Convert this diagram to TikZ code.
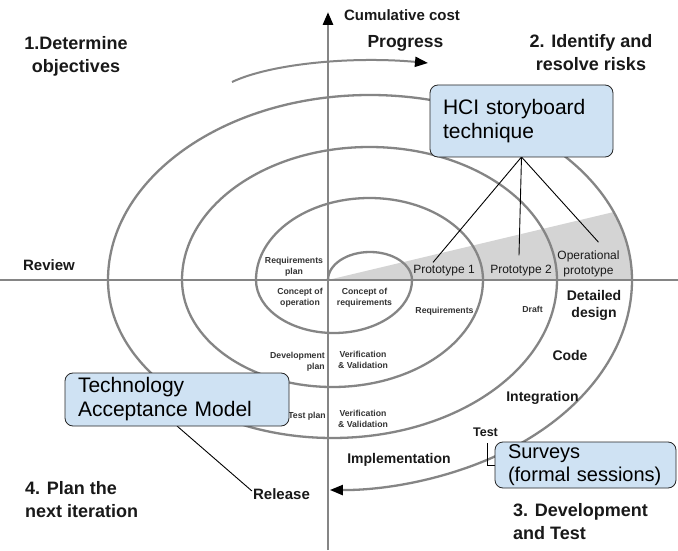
\documentclass[tikz,border=0pt]{standalone}
\usepackage{fontspec}
\setmainfont{Liberation Sans}
\usetikzlibrary{arrows.meta,calc}
\definecolor{arcgray}{HTML}{858585}
\definecolor{boxblue}{HTML}{CFE2F3}
\definecolor{wedgegray}{HTML}{D4D4D4}

\begin{document}
\begin{tikzpicture}[x=1pt,y=1pt,
  spiral/.style={draw=arcgray, line width=2.3pt},
  axisline/.style={draw=arcgray, line width=2.8pt},
  tip/.style={-{Triangle[length=13pt,width=10pt,color=black]}},
  callout/.style={draw=black!85, line width=0.8pt, fill=boxblue, rounded corners=8pt,
    align=left, inner xsep=13pt, inner ysep=0pt},
  lead/.style={draw=black, line width=0.9pt},
  phase/.style={font=\bfseries\fontsize{18}{23}\selectfont, text=black!90, inner sep=1pt},
  task/.style={font=\bfseries\fontsize{14}{17}\selectfont, text=black!90, inner sep=1pt, align=center},
  proto/.style={font=\fontsize{12}{15}\selectfont, text=black!90, inner sep=1pt, align=center},
  tiny/.style={font=\bfseries\fontsize{8.7}{11}\selectfont, text=black!80, inner sep=1pt, align=center},
]
\useasboundingbox (0,0) rectangle (678,550);
\fill[white] (0,0) rectangle (678,550);

% shaded prototype wedge inside the outer turn
\begin{scope}
  \clip (370,270) ellipse[x radius=262pt, y radius=185pt];
  \fill[wedgegray] (328,270) -- (700,270) -- (700,358.5) -- cycle;
\end{scope}

% axes
\draw[axisline] (0,270) -- (678,270);
\draw[axisline, tip] (328,0) -- (328,538);

% the spiral: upper and lower half-ellipses in turn
\draw[spiral, tip] (328,270)
  arc[start angle=180, end angle=0,   x radius=42pt,    y radius=28pt]
  arc[start angle=0,   end angle=-180, x radius=78pt,   y radius=53pt]
  arc[start angle=180, end angle=0,   x radius=113.5pt, y radius=82pt]
  arc[start angle=0,   end angle=-180, x radius=150.5pt, y radius=107pt]
  arc[start angle=180, end angle=0,   x radius=187.5pt, y radius=133pt]
  arc[start angle=0,   end angle=-180, x radius=224.5pt, y radius=158pt]
  arc[start angle=180, end angle=0,   x radius=262pt,   y radius=185pt]
  arc[start angle=0,   end angle=-90.5, x radius=299.5pt, y radius=210pt];

% progress arrow
\draw[draw=arcgray, line width=2pt, tip] (232,468) .. controls (270,486) and (350,494) .. (428,487);

% axis and quadrant labels
\node[task, font=\bfseries\fontsize{15}{18}\selectfont] (cost) at (402,535) {Cumulative cost};
\node[phase, font=\bfseries\fontsize{17.5}{22}\selectfont] (prog) at (405.5,507) {Progress};
\node[phase, align=center] (q1) at (76,493.5) {1.Determine\\objectives};
\node[phase, align=center] (q2) at (591,497) {2. Identify and\\resolve risks};
\node[phase, align=left, anchor=west] (q4) at (24,50) {4. Plan the\\next iteration};
\node[phase, align=left, anchor=west] (q3) at (512,28) {3. Development\\and Test};
\node[task, font=\bfseries\fontsize{15}{18}\selectfont] (rev) at (49,285) {Review};
\node[task, font=\bfseries\fontsize{15}{18}\selectfont] (rel) at (281.5,56) {Release};

% labels along the turns
\node[proto] (p1) at (444,279) {Prototype 1};
\node[proto] (p2) at (521,279) {Prototype 2};
\node[proto] (op) at (588.5,286.5) {Operational\\prototype};
\node[task] (dd) at (594,244.5) {Detailed\\design};
\node[task] (code) at (570,195) {Code};
\node[task] (integ) at (542.5,152) {Integration};
\node[task, font=\bfseries\fontsize{12.5}{15}\selectfont] (test) at (485.5,117.5) {Test};
\node[task] (impl) at (399,90) {Implementation};

\node[tiny] (rplan) at (294,283) {Requirements\\plan};
\node[tiny] (cop) at (300,252.5) {Concept of\\operation};
\node[tiny] (creq) at (364.5,252.5) {Concept of\\requirements};
\node[tiny] (req) at (444.5,239) {Requirements};
\node[tiny] (draft) at (532.5,241) {Draft};
\node[tiny, align=right, anchor=east] (dplan) at (326,188.5) {Development\\plan};
\node[tiny] (vv1) at (363,190) {Verification\\\& Validation};
\node[tiny] (vv2) at (363,131) {Verification\\\& Validation};
\node[tiny, anchor=east] (tplan) at (327,134) {Test plan};

% callout leads
\coordinate (hcifoot) at (521.5,393);
\draw[lead] (hcifoot) -- ([xshift=-11pt,yshift=2pt]p1.north);
\draw[lead] (hcifoot) -- ([xshift=-2pt,yshift=9pt]p2.north);
\draw[lead] (hcifoot) -- ([xshift=10pt,yshift=7pt]op.north);
\draw[lead] (177,124) -- ([yshift=3pt]rel.west);
\draw[lead] ([xshift=1.5pt,yshift=-5pt]test.south) |- (495,85);

% callout boxes
\node[callout, text width=157pt, minimum height=72pt, font=\fontsize{21}{24}\selectfont] (hci) at (521.5,429)
  {\mbox{HCI storyboard}\\\mbox{technique}};
\node[callout, text width=198pt, minimum height=53pt, font=\fontsize{21}{24}\selectfont] (tam) at (177,150.5)
  {\mbox{Technology}\\\mbox{Acceptance Model}};
\node[callout, text width=155pt, minimum height=46pt, font=\fontsize{20}{23}\selectfont] (sv) at (585.5,85)
  {\mbox{Surveys}\\\mbox{(formal sessions)}};
\end{tikzpicture}
\end{document}
